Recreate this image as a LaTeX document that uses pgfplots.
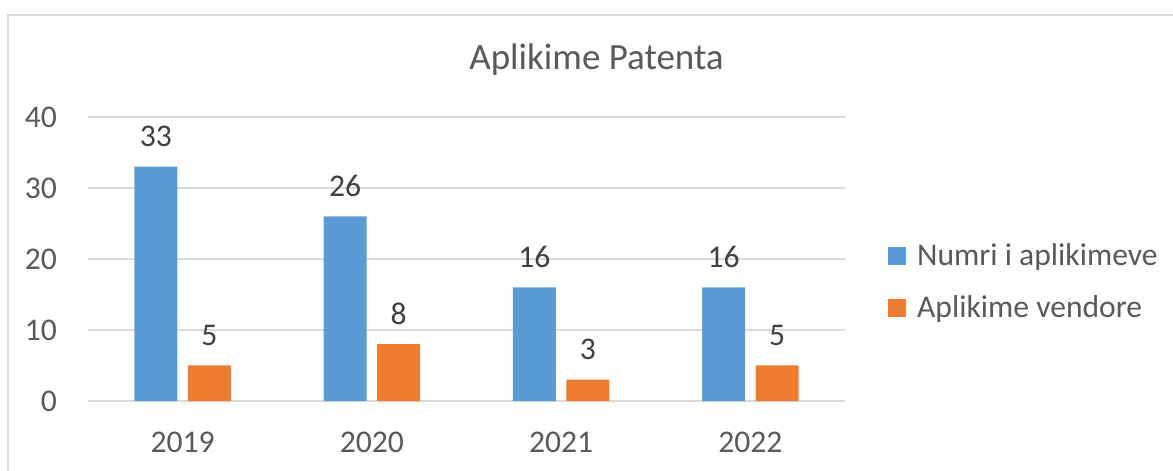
\documentclass[border=0pt]{standalone}
\usepackage{pgfplots}
\pgfplotsset{compat=1.18}
\usepackage{fontspec}
\setmainfont{Carlito}
\definecolor{cblue}{HTML}{5B9BD5}
\definecolor{corange}{HTML}{ED7D31}
\definecolor{tgray}{HTML}{595959}
\definecolor{lgray}{HTML}{404040}
\definecolor{gridc}{HTML}{D9D9D9}
\newcommand{\lblfont}{\fontsize{31.6bp}{38bp}\selectfont}
\pgfplotsset{sqlegend/.style={legend image code/.code={\fill[##1] (0bp,0bp) rectangle (18bp,18bp);}}}
\begin{document}
\begin{tikzpicture}
\path[use as bounding box] (0,0) rectangle (1173bp,471bp);
\draw[gridc, line width=1.5bp] (8bp,0) -- (8bp,456bp) -- (1173bp,456bp);
\begin{axis}[
  at={(88bp,70bp)}, anchor=south west,
  scale only axis, width=757bp, height=284bp,
  xmin=-0.5, xmax=3.5, ymin=0, ymax=40,
  ytick={0,10,20,30,40},
  xtick={0,1,2,3}, xticklabels={2019,2020,2021,2022},
  tick style={draw=none},
  ymajorgrids, grid style={gridc, line width=1.5bp},
  axis line style={draw=none},
  /pgf/number format/assume math mode=true,
  ticklabel style={font=\lblfont, text=tgray, inner sep=0pt},
  yticklabel style={anchor=east, xshift=-31bp},
  xticklabel style={anchor=north, yshift=-31bp},
  nodes near coords,
  every node near coord/.append style={font=\lblfont, text=lgray, anchor=base, inner sep=0pt, yshift=20bp},
  clip=false,
  legend style={at={(1.0568,0.5634)}, anchor=north west, draw=none, fill=none,
    inner sep=0pt, font=\lblfont, text=tgray, row sep=24.5bp, column sep=9bp,
    cells={anchor=base west}},
]
\addplot[ybar, bar width=43bp, bar shift=-26.75bp, fill=cblue, draw=none, sqlegend,
  every node near coord/.append style={xshift=-26.75bp}]
  coordinates {(0,33) (1,26) (2,16) (3,16)};
\addlegendentry{Numri i aplikimeve}
\addplot[ybar, bar width=43bp, bar shift=26.75bp, fill=corange, draw=none, sqlegend,
  every node near coord/.append style={xshift=26.75bp}]
  coordinates {(0,5) (1,8) (2,3) (3,5)};
\addlegendentry{Aplikime vendore}
\end{axis}
\node[anchor=base, text=tgray, font=\fontsize{37bp}{44bp}\selectfont] at (596.5bp,401bp) {Aplikime Patenta};
\end{tikzpicture}
\end{document}
